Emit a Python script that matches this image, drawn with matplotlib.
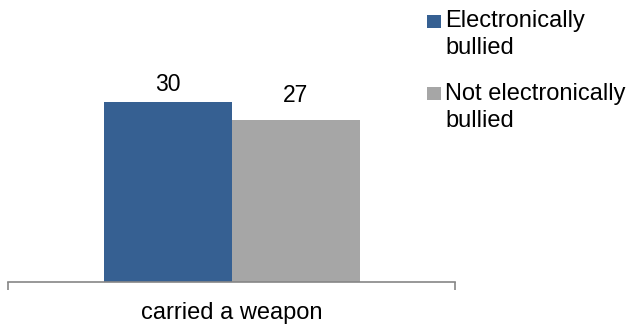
import matplotlib
matplotlib.use("Agg")
import matplotlib.pyplot as plt
from matplotlib.patches import Rectangle

categories = ["carried a weapon"]
series_names = ["Electronically\nbullied", "Not electronically\nbullied"]
electronically_bullied = [30]
not_electronically_bullied = [27]
series_values = [electronically_bullied, not_electronically_bullied]
colors = ["#366092", "#A6A6A6"]

plt.rcParams['font.family'] = ['Liberation Sans', 'DejaVu Sans']
W, H = 627, 325
fig = plt.figure(figsize=(W / 100, H / 100), dpi=100)

def fx(px):
    return px / W

def fy(py):
    return 1 - py / H

base_px = 282.3
ppu = 6.01
ymax = 40
ax = fig.add_axes([fx(8), fy(base_px), fx(447), ymax * ppu / H])
ax.set_xlim(-0.5, 0.5)
ax.set_ylim(0, ymax)

bw = 128 / 447
label_offsets = [8, 13]
for i, (vals, col) in enumerate(zip(series_values, colors)):
    xs = [k - bw + i * bw for k in range(len(categories))]
    bars = ax.bar(xs, vals, width=bw, align='edge', color=col, linewidth=0)
    for b, v in zip(bars, vals):
        ax.annotate(f"{v}", (b.get_x() + b.get_width() / 2, b.get_height()),
                    xytext=(0, label_offsets[i]), textcoords='offset points',
                    ha='center', va='baseline', fontsize=16.5, color='#000000')

for s in ['top', 'right', 'left']:
    ax.spines[s].set_visible(False)
ax.spines['bottom'].set_color('#868686')
ax.spines['bottom'].set_linewidth(1.2)
ax.set_yticks([])
ax.set_xticks(range(len(categories)))
ax.set_xticklabels(categories, fontsize=17)
ax.set_xticks([-0.5, 0.5], minor=True)
ax.tick_params(axis='x', which='major', length=0, pad=14.5)
ax.tick_params(axis='x', which='minor', length=6, width=1.2, color='#868686')

# legend
for i, (name, col) in enumerate(zip(series_names, colors)):
    top = 15 + i * 71.5
    fig.patches.append(Rectangle((fx(427.3), fy(top + 13)), fx(13.4), 13 / H,
                                 transform=fig.transFigure, color=col, linewidth=0))
    for j, line in enumerate(name.split("\n")):
        fig.text(fx(445), fy(27 + i * 73 + j * 27), line, fontsize=17,
                 va='baseline', ha='left', color='#000000')

fig.savefig("out.png", dpi=100)
